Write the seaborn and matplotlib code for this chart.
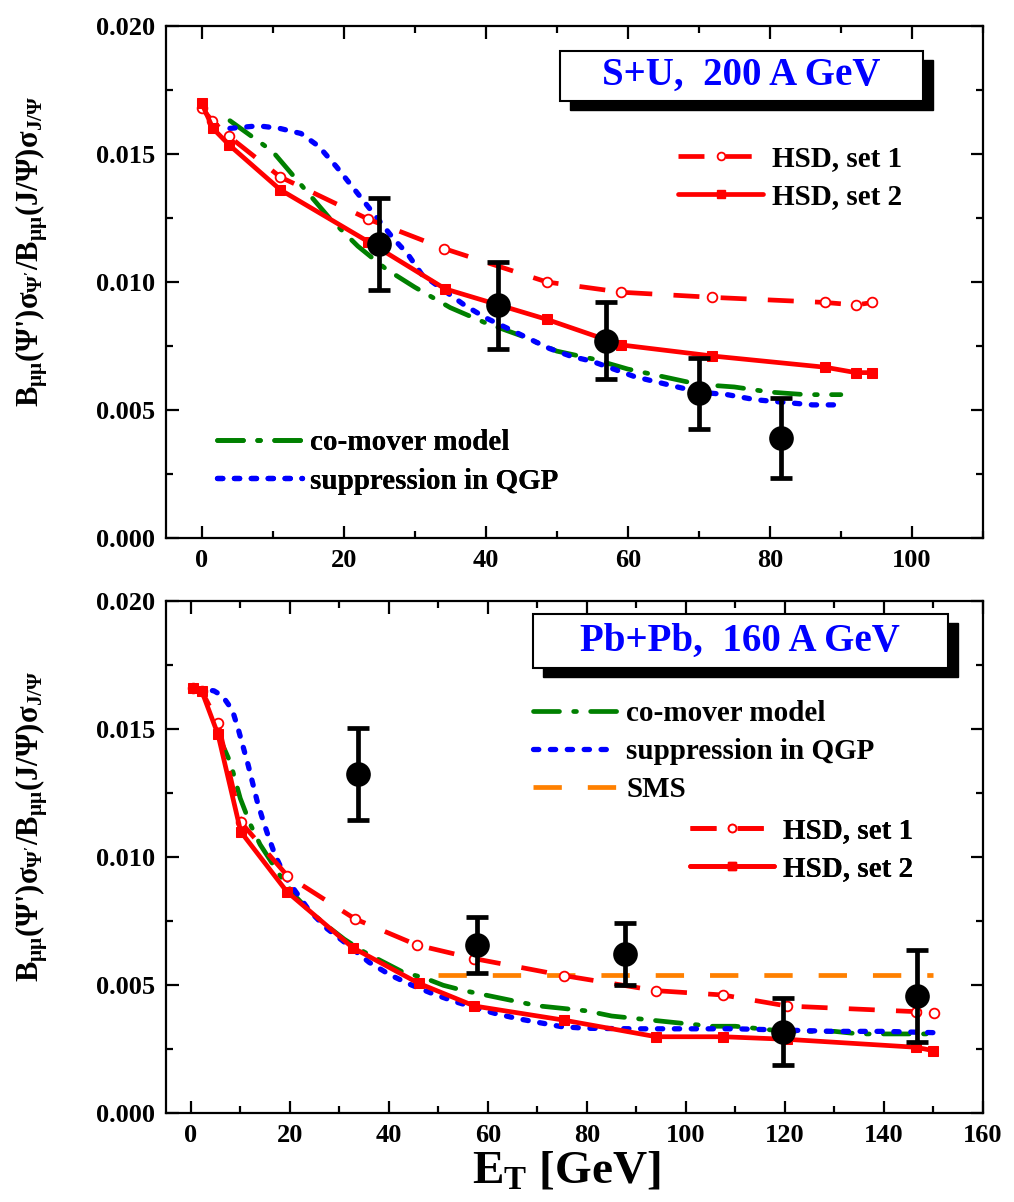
import numpy as np
import pandas as pd
import seaborn as sns
import matplotlib
matplotlib.use("Agg")
import matplotlib.pyplot as plt
from matplotlib.lines import Line2D
from matplotlib.patches import Rectangle
from matplotlib.ticker import MultipleLocator, FormatStrFormatter

# ---------------- data: S+U 200 A GeV ----------------
su_data_x = [25.0, 41.7, 56.9, 70.0, 81.6]
su_data_y = [0.0115, 0.0091, 0.0077, 0.00565, 0.0039]
su_data_err = [0.0018, 0.0017, 0.0015, 0.0014, 0.00155]

su_hsd1_x = [0, 1.5, 3.8, 11.1, 23.5, 34.2, 48.6, 59.1, 71.9, 87.8, 92.1, 94.4]
su_hsd1_y = [0.0168, 0.0163, 0.0157, 0.0141, 0.01245, 0.0113, 0.0100, 0.0096,
             0.0094, 0.0092, 0.0091, 0.0092]

su_hsd2_x = [0, 1.6, 3.9, 11.1, 23.5, 34.3, 48.6, 59.1, 71.9, 87.8, 92.1, 94.4]
su_hsd2_y = [0.0170, 0.0160, 0.01535, 0.0136, 0.01157, 0.00973, 0.00854, 0.00754,
             0.00711, 0.00667, 0.00646, 0.00646]

su_comover_x = [4, 7, 10, 14, 18, 22, 26, 30, 35, 40, 45, 50, 55, 60, 65, 70, 75, 80, 85, 90]
su_comover_y = [0.0163, 0.0157, 0.0151, 0.0138, 0.0125, 0.0114, 0.0105, 0.0098, 0.0090,
                0.0084, 0.0079, 0.0073, 0.0070, 0.0066, 0.0063, 0.0060, 0.0059, 0.0057,
                0.0056, 0.0056]

su_qgp_x = [4, 8, 11, 14, 16.5, 19, 21, 23, 25, 27, 29, 31, 34, 37, 40, 43, 46, 49, 52,
            55, 58, 61, 64, 67, 70, 74, 78, 82, 86, 89]
su_qgp_y = [0.0160, 0.0161, 0.0160, 0.0158, 0.0153, 0.0145, 0.0138, 0.0131, 0.0124,
            0.0117, 0.0111, 0.0103, 0.0097, 0.0091, 0.0086, 0.0082, 0.0078, 0.0074,
            0.0071, 0.0069, 0.0066, 0.0063, 0.0061, 0.0059, 0.0057, 0.0056, 0.0054,
            0.0053, 0.0052, 0.0052]

# ---------------- data: Pb+Pb 160 A GeV ----------------
pb_data_x = [33.7, 57.9, 87.7, 119.6, 146.7]
pb_data_y = [0.01325, 0.00658, 0.00622, 0.00319, 0.00458]
pb_data_err = [0.0018, 0.0011, 0.0012, 0.0013, 0.0018]

pb_hsd1_x = [0.5, 2.2, 5.5, 10.1, 19.5, 33.1, 45.7, 57.3, 75.3, 94.0, 107.5, 120.4, 146.4, 150.1]
pb_hsd1_y = [0.01663, 0.0165, 0.01526, 0.01137, 0.00928, 0.0076, 0.00657, 0.00604,
             0.00538, 0.00479, 0.00462, 0.00419, 0.00397, 0.0039]

pb_hsd2_x = [0.5, 2.2, 5.5, 10.1, 19.4, 32.7, 46.0, 57.3, 75.3, 94.0, 107.5, 120.4, 146.4, 149.9]
pb_hsd2_y = [0.0166, 0.0165, 0.0148, 0.0110, 0.00866, 0.00647, 0.00508, 0.00419,
             0.00364, 0.00299, 0.00299, 0.00289, 0.00258, 0.00245]

pb_comover_x = [5.5, 8, 10, 12, 14, 16, 18, 21, 24, 27, 31, 35, 39, 43, 47, 51, 55, 60,
                65, 70, 75, 80, 85, 90, 95, 100, 105, 110, 115, 120, 125, 130, 135, 140,
                145, 150]
pb_comover_y = [0.0148, 0.0137, 0.0123, 0.0113, 0.0105, 0.0099, 0.0093, 0.0085, 0.0079,
                0.0074, 0.0068, 0.0063, 0.0059, 0.0055, 0.0053, 0.0050, 0.0048, 0.0046,
                0.0044, 0.0042, 0.0041, 0.0040, 0.0038, 0.0037, 0.0036, 0.0035, 0.0034,
                0.0034, 0.0033, 0.0032, 0.0032, 0.0032, 0.0031, 0.0031, 0.0031, 0.0031]

pb_qgp_x = [1, 4.7, 6.4, 8.4, 9.6, 10.6, 11.6, 12.5, 13.4, 14.5, 15.7, 17, 19.2, 21.4,
            24, 27.6, 31.6, 36, 40.3, 44.7, 49, 53.4, 57.8, 62, 66.5, 71, 75, 80, 90,
            100, 110, 120, 130, 140, 150]
pb_qgp_y = [0.0166, 0.0165, 0.0163, 0.01575, 0.0150, 0.0143, 0.0136, 0.0129, 0.0122,
            0.0115, 0.0108, 0.0101, 0.0092, 0.0086, 0.0079, 0.0072, 0.0066, 0.0059,
            0.0054, 0.0050, 0.00466, 0.00436, 0.0041, 0.00387, 0.00368, 0.00352,
            0.00338, 0.00332, 0.0033, 0.0033, 0.0033, 0.00325, 0.0032, 0.0032, 0.00315]

pb_sms_x = [50, 150]
pb_sms_y = [0.0054, 0.0054]

titles = ["S+U,  200 A GeV", "Pb+Pb,  160 A GeV"]
label_hsd1 = "HSD, set 1"
label_hsd2 = "HSD, set 2"
label_comover = "co-mover model"
label_qgp = "suppression in QGP"
label_sms = "SMS"
ylabel = r"B$_{\mathbf{\mu\mu}}$($\mathbf{\Psi}$')$\mathbf{\sigma}_{\mathbf{\Psi'}}$/B$_{\mathbf{\mu\mu}}$(J/$\mathbf{\Psi}$)$\mathbf{\sigma}_{\mathbf{J/\Psi}}$"
xlabel = r"E$_{\mathbf{T}}$ [GeV]"

# ---------------- style ----------------
sns.set_style("ticks")
plt.rcParams["font.family"] = ["Liberation Serif", "DejaVu Serif"]
plt.rcParams["font.weight"] = "bold"
plt.rcParams["mathtext.fontset"] = "custom"
plt.rcParams["mathtext.rm"] = "Liberation Serif:bold"
plt.rcParams["mathtext.bf"] = "Liberation Serif:bold"
plt.rcParams["mathtext.it"] = "Liberation Serif:bold:italic"
for key in ["text.color", "axes.labelcolor", "xtick.color", "ytick.color",
            "axes.edgecolor", "xtick.labelcolor", "ytick.labelcolor"]:
    plt.rcParams[key] = "black"

RED = "#ff0000"
GREEN = "#008000"
BLUE = "#0000ff"
ORANGE = "#ff8000"

st_hsd1 = dict(color=RED, lw=3.4, linestyle=(0, (5.5, 4.5)), marker="o", markersize=7,
               markerfacecolor="white", markeredgecolor=RED, markeredgewidth=1.3)
st_hsd2 = dict(color=RED, lw=3.4, linestyle="-", marker="s", markersize=7,
               markerfacecolor=RED, markeredgecolor=RED)
st_com = dict(color=GREEN, lw=3.4, linestyle=(0, (5.5, 3, 0.6, 3)), dash_capstyle="round")
st_qgp = dict(color=BLUE, lw=3.8, linestyle=(0, (1.0, 2.2)), dash_capstyle="round")
st_sms = dict(color=ORANGE, lw=3.4, linestyle=(0, (6, 5.5)))

fig = plt.figure(figsize=(10.14, 12.02), dpi=100)
ax1 = fig.add_axes([0.1637, 0.5524, 0.8057, 0.426])
ax2 = fig.add_axes([0.1637, 0.0738, 0.8057, 0.426])


def draw_curve(ax, xs, ys, style):
    df = pd.DataFrame({"x": xs, "y": ys})
    sns.lineplot(data=df, x="x", y="y", ax=ax, sort=False, estimator=None,
                 legend=False, **style)


def draw_data(ax, xs, ys, errs):
    ax.errorbar(xs, ys, yerr=errs, fmt="none", ecolor="black", elinewidth=3.4,
                capsize=8, capthick=3.4, zorder=5)
    sns.scatterplot(x=xs, y=ys, ax=ax, color="black", s=270, edgecolor="black",
                    zorder=6, legend=False)


def style_axes(ax, xmax, xmajor):
    ax.set_xlim(-5, xmax)
    ax.set_ylim(0, 0.020)
    ax.xaxis.set_major_locator(MultipleLocator(xmajor))
    ax.xaxis.set_minor_locator(MultipleLocator(xmajor / 2))
    ax.yaxis.set_major_locator(MultipleLocator(0.005))
    ax.yaxis.set_minor_locator(MultipleLocator(0.0025))
    ax.yaxis.set_major_formatter(FormatStrFormatter("%.3f"))
    ax.tick_params(which="both", direction="in", top=True, right=True, width=1.6,
                   color="black", labelcolor="black")
    ax.tick_params(which="major", length=9, labelsize=19, pad=8)
    ax.tick_params(which="minor", length=5)
    for lab in ax.get_xticklabels() + ax.get_yticklabels():
        lab.set_fontweight("bold")
    for sp in ax.spines.values():
        sp.set_linewidth(1.6)
        sp.set_color("black")
        sp.set_visible(True)
    ax.set_xlabel("")
    ax.set_ylabel(ylabel, fontsize=22, fontweight="bold", color="black")
    ax.yaxis.set_label_coords(-0.142, 0.56)


def title_box(ax, text, x0, y0, x1, y1):
    w, h = x1 - x0, y1 - y0
    dx = 10 / (ax.bbox.width)
    dy = 9 / (ax.bbox.height)
    ax.add_patch(Rectangle((x0 + dx, y0 - dy), w, h, transform=ax.transAxes,
                           facecolor="black", edgecolor="black", zorder=8))
    ax.add_patch(Rectangle((x0, y0), w, h, transform=ax.transAxes,
                           facecolor="white", edgecolor="black", lw=1.5, zorder=9))
    ax.text(x0 + w / 2, y0 + h / 2, text, transform=ax.transAxes, ha="center",
            va="center", color=BLUE, fontsize=28, fontweight="bold", zorder=10)


def make_handle(style):
    kw = dict(style)
    return Line2D([], [], **kw)


def place_legend(ax, handles, labels, x, y):
    leg = ax.legend(handles, labels, loc="upper left", bbox_to_anchor=(x, y),
                    frameon=False, handlelength=2.9, handletextpad=0.3,
                    labelspacing=0.38, borderpad=0, borderaxespad=0,
                    prop={"family": "Liberation Serif", "weight": "bold", "size": 21},
                    numpoints=1, markerscale=0.8, labelcolor="black")
    ax.add_artist(leg)
    return leg


# ---------------- top panel ----------------
draw_curve(ax1, su_comover_x, su_comover_y, st_com)
draw_curve(ax1, su_qgp_x, su_qgp_y, st_qgp)
draw_curve(ax1, su_hsd1_x, su_hsd1_y, st_hsd1)
draw_curve(ax1, su_hsd2_x, su_hsd2_y, st_hsd2)
draw_data(ax1, su_data_x, su_data_y, su_data_err)
style_axes(ax1, 110, 20)
title_box(ax1, titles[0], 0.482, 0.854, 0.926, 0.952)
place_legend(ax1, [make_handle(st_hsd1), make_handle(st_hsd2)],
             [label_hsd1, label_hsd2], 0.627, 0.768)
place_legend(ax1, [make_handle(st_com), make_handle(st_qgp)],
             [label_comover, label_qgp], 0.0624, 0.212)

# ---------------- bottom panel ----------------
draw_curve(ax2, pb_sms_x, pb_sms_y, st_sms)
draw_curve(ax2, pb_comover_x, pb_comover_y, st_com)
draw_curve(ax2, pb_qgp_x, pb_qgp_y, st_qgp)
draw_curve(ax2, pb_hsd1_x, pb_hsd1_y, st_hsd1)
draw_curve(ax2, pb_hsd2_x, pb_hsd2_y, st_hsd2)
draw_data(ax2, pb_data_x, pb_data_y, pb_data_err)
style_axes(ax2, 160, 20)
title_box(ax2, titles[1], 0.449, 0.870, 0.957, 0.975)
place_legend(ax2, [make_handle(st_com), make_handle(st_qgp), make_handle(st_sms)],
             [label_comover, label_qgp, label_sms], 0.449, 0.807)
place_legend(ax2, [make_handle(st_hsd1), make_handle(st_hsd2)],
             [label_hsd1, label_hsd2], 0.641, 0.578)
ax2.set_xlabel(xlabel, fontsize=34, fontweight="bold", color="black")
ax2.xaxis.set_label_coords(0.49, -0.072)
ax2.xaxis.label.set_va("top")

fig.savefig("out.png", dpi=100)
